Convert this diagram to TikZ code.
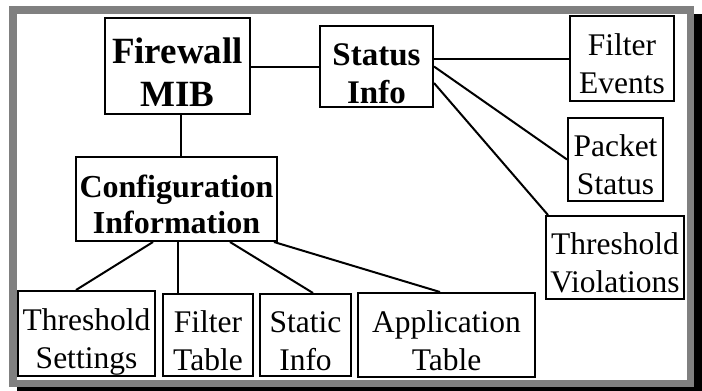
\documentclass[tikz,border=0pt]{standalone}
\usepackage{fontspec}
\setmainfont{Liberation Serif}
\usetikzlibrary{calc}
\tikzset{
  box/.style={draw, line width=2pt, inner sep=0pt, align=center, text depth=0pt},
  plain/.style={box, text height=70pt, font=\fontsize{31.5}{38}\selectfont},
  headA/.style={box, text height=80pt, font=\bfseries\fontsize{37}{43}\selectfont},
  headB/.style={box, text height=73pt, font=\bfseries\fontsize{33}{38}\selectfont},
  headC/.style={box, text height=68pt, font=\bfseries\fontsize{32}{36}\selectfont},
  link/.style={line width=2pt},
}
\begin{document}
\begin{tikzpicture}[x=1pt, y=-1pt]
  \useasboundingbox (0,0) rectangle (702,391);
  % framed panel with drop shadow
  \fill[black] (17,14) rectangle (702,395);
  \draw[line width=7.5pt, gray, fill=white] (12.75,9.75) rectangle (690.25,383.25);

  % top level
  \node[headA, minimum width=145pt, minimum height=96pt] (fw) at (177.5,66) {Firewall\\MIB};
  \node[headB, minimum width=113pt, minimum height=81pt] (st) at (376.5,66.5) {Status\\Info};
  \node[headC, minimum width=201pt, minimum height=84pt] (cfg) at (176.5,199) {Configuration\\Information};

  % status branch
  \node[plain, minimum width=104pt, minimum height=85pt] (fe) at (622,58.5) {Filter\\Events};
  \node[plain, minimum width=95pt, minimum height=83pt] (ps) at (615.5,159.5) {Packet\\Status};
  \node[plain, minimum width=138pt, minimum height=83pt] (tv) at (615,257.5) {Threshold\\Violations};

  % configuration branch
  \node[plain, minimum width=137pt, minimum height=85pt] (ts) at (86.5,333.5) {Threshold\\Settings};
  \node[plain, minimum width=90pt, minimum height=82pt] (ft) at (208,335) {Filter\\Table};
  \node[plain, minimum width=91pt, minimum height=82pt] (si) at (305.5,335) {Static\\Info};
  \node[plain, minimum width=177pt, minimum height=84pt] (at) at (446.5,335) {Application\\Table};

  % connectors
  \draw[link] (st.west) -- (st.west -| fw.east);
  \draw[link] ([xshift=3.5pt]fw.south) -- ([xshift=3.5pt]fw.south |- cfg.north);
  \draw[link] (fe.west) -- (fe.west -| st.east);
  \draw[link] (st.east) -- (ps.west);
  \draw[link] ([yshift=-16.5pt]st.east) -- ([xshift=3pt]tv.north west);
  \draw[link] ([xshift=78pt]cfg.south west) -- ([xshift=-10.5pt]ts.north);
  \draw[link] ([xshift=1.5pt]cfg.south) -- ([xshift=1.5pt]cfg.south |- ft.north);
  \draw[link] ([xshift=53.5pt]cfg.south) -- ([xshift=7.5pt]si.north);
  \draw[link] ([xshift=-4pt]cfg.south east) -- ([xshift=-6.5pt]at.north);
\end{tikzpicture}
\end{document}
